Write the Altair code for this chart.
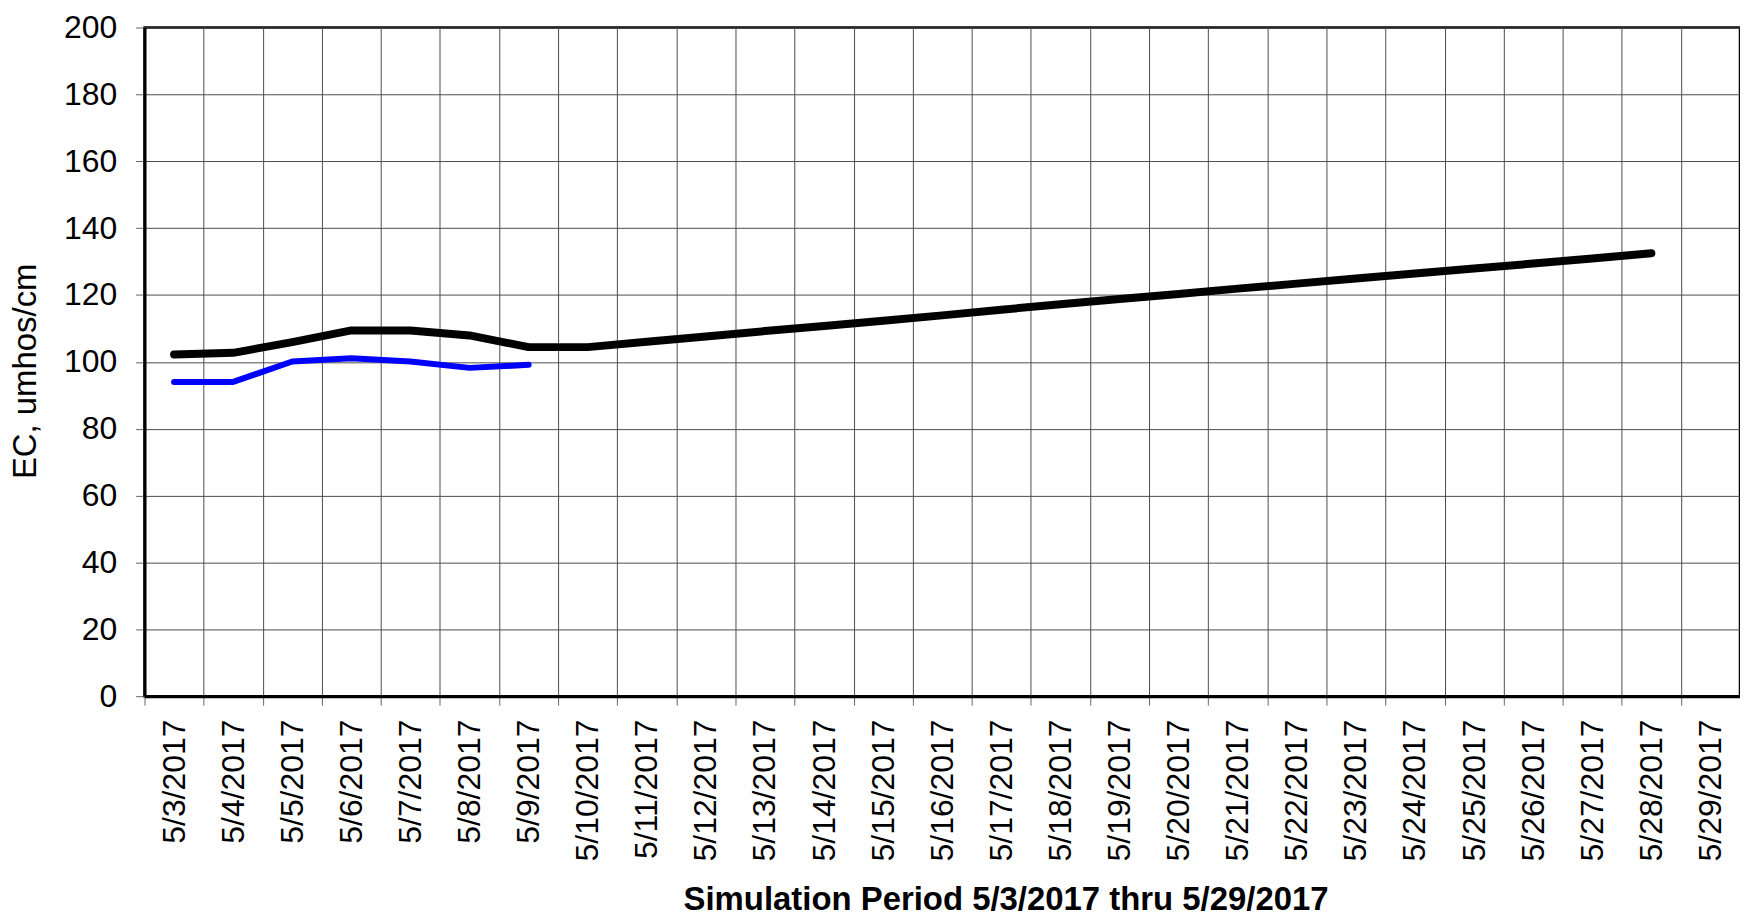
import altair as alt
import pandas as pd

dates = ["5/3/2017", "5/4/2017", "5/5/2017", "5/6/2017", "5/7/2017", "5/8/2017",
         "5/9/2017", "5/10/2017", "5/11/2017", "5/12/2017", "5/13/2017", "5/14/2017",
         "5/15/2017", "5/16/2017", "5/17/2017", "5/18/2017", "5/19/2017", "5/20/2017",
         "5/21/2017", "5/22/2017", "5/23/2017", "5/24/2017", "5/25/2017", "5/26/2017",
         "5/27/2017", "5/28/2017", "5/29/2017"]

model_values = [102.2, 102.7, 105.9, 109.4, 109.4, 107.9, 104.4, 104.4, 106.0, 107.6,
                109.2, 110.7, 112.3, 113.9, 115.6, 117.2, 118.8, 120.3, 121.9, 123.4,
                124.9, 126.4, 127.9, 129.4, 130.9, 132.5]

observed_values = [94.0, 94.0, 100.1, 101.1, 100.1, 98.2, 99.1]

y_ticks = [0, 20, 40, 60, 80, 100, 120, 140, 160, 180, 200]

model_df = pd.DataFrame({"date": dates[:len(model_values)], "ec": model_values})
obs_df = pd.DataFrame({"date": dates[:len(observed_values)], "ec": observed_values})

FONT = "Liberation Sans"

x_enc = alt.X(
    "date:N",
    sort=dates,
    scale=alt.Scale(type="band", domain=dates, paddingInner=0, paddingOuter=0),
    axis=alt.Axis(
        title="Simulation Period 5/3/2017 thru 5/29/2017",
        titleFont=FONT, titleFontSize=33, titleFontWeight="bold", titleColor="black",
        titleX=864, titleY=214, titleAlign="center", titleBaseline="alphabetic",
        labelFont=FONT, labelFontSize=32, labelColor="black", labelAngle=270,
        labelPadding=14, labelOverlap=False, labelBound=False, labelFlush=False,
        tickBand="extent", ticks=True, tickSize=9, tickColor="#666666", tickWidth=1,
        grid=True, gridColor="#4d4d4d", gridWidth=1,
        domain=True, domainColor="black", domainWidth=3,
    ),
)

y_enc = alt.Y(
    "ec:Q",
    scale=alt.Scale(domain=[0, 200], nice=False, zero=True),
    axis=alt.Axis(
        title="EC, umhos/cm",
        titleFont=FONT, titleFontSize=33, titleFontWeight="normal", titleColor="black",
        titleX=-102, titleY=344.5, titleAlign="center", titleBaseline="bottom", titleAngle=270,
        values=y_ticks,
        labelFont=FONT, labelFontSize=32, labelColor="black", labelPadding=19,
        ticks=True, tickSize=9, tickColor="#666666", tickWidth=1,
        grid=True, gridColor="#4d4d4d", gridWidth=1,
        domain=True, domainColor="black", domainWidth=3,
    ),
)

model_line = alt.Chart(model_df).mark_line(
    color="black", strokeWidth=8, strokeCap="round", strokeJoin="round"
).encode(x=x_enc, y=y_enc)

obs_line = alt.Chart(obs_df).mark_line(
    color="#0000ff", strokeWidth=6, strokeCap="round", strokeJoin="round"
).encode(x=x_enc, y=y_enc)

chart = alt.layer(model_line, obs_line).properties(
    width=1601,
    height=671,
    autosize=alt.AutoSizeParams(type="none"),
    padding={"left": 137, "top": 18, "right": 0, "bottom": 219},
    background="white",
).configure_view(
    stroke="black", strokeWidth=2.5
)

chart.save("out.html", embed_options={"renderer": "svg", "actions": False})
